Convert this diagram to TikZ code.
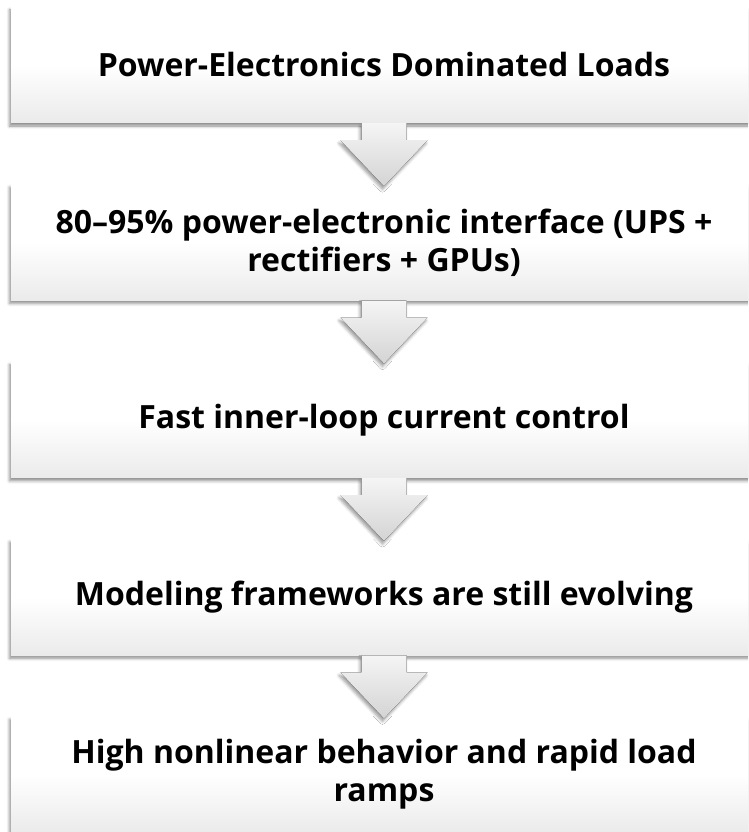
\documentclass[tikz,border=0pt]{standalone}
\usepackage{fontspec}
\setmainfont{Open Sans}
\usetikzlibrary{positioning,calc,shadows.blur}

\tikzset{
  stagebox/.style={rectangle, minimum width=746pt, minimum height=116pt, inner sep=0pt, align=center,
    top color=white, bottom color=black!8, middle color=white,
    blur shadow={shadow xshift=-1.5pt, shadow yshift=-3pt, shadow blur radius=3pt, shadow opacity=45},
    font=\fontsize{32}{38}\selectfont\bfseries},
  blockarrow/.style={top color=black!4, bottom color=black!17,
    blur shadow={shadow xshift=-1.5pt, shadow yshift=-3pt, shadow blur radius=3pt, shadow opacity=40}}
}

\begin{document}
\begin{tikzpicture}[x=1pt,y=-1pt,node distance=61pt]
\useasboundingbox (0,0) rectangle (748,832);
\clip (0,0) rectangle (748,832);
\node[stagebox] (b1) at (384,65) {Power-Electronics Dominated Loads};
\node[stagebox,below=of b1] (b2) {80--95\% power-electronic interface (UPS +\\rectifiers + GPUs)};
\node[stagebox,below=of b2] (b3) {Fast inner-loop current control};
\node[stagebox,below=of b3] (b4) {Modeling frameworks are still evolving};
\node[stagebox,below=of b4] (b5) {High nonlinear behavior and rapid load\\ramps};
% block arrows between the stages
\foreach \u/\v in {b1/b2,b2/b3,b3/b4,b4/b5}
  \fill[blockarrow] ($(\u.south)+(-22.5,0)$) -- ++(0,17) -- ++(-21,0) -- ($(\v.north)+(0,2)$)
    -- ($(\u.south)+(43.5,17)$) -- ++(-21,0) -- ($(\u.south)+(22.5,0)$) -- cycle;
\end{tikzpicture}
\end{document}
